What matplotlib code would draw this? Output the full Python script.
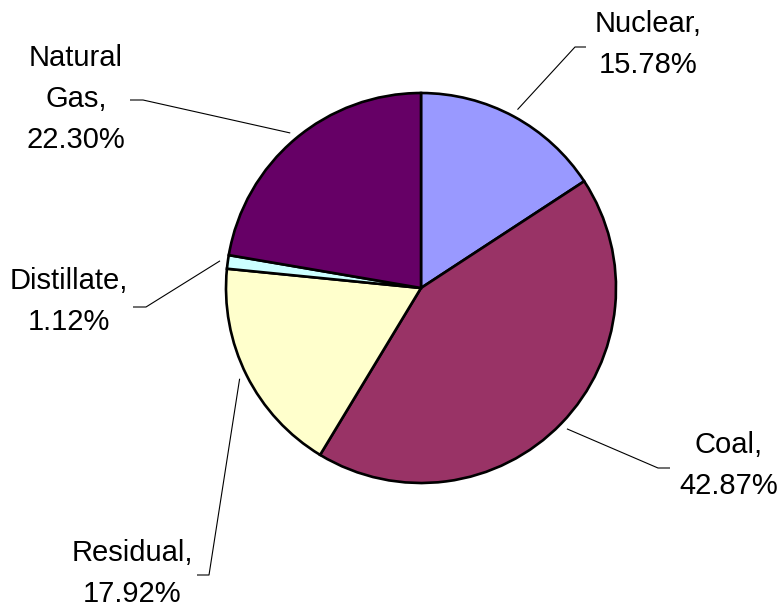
import numpy as np
import matplotlib
matplotlib.use('Agg')
import matplotlib.pyplot as plt

# fuel mix shares, clockwise from 12 o'clock
fuels = ['Nuclear', 'Coal', 'Residual', 'Distillate', 'Natural Gas']
shares = [15.78, 42.87, 17.92, 1.12, 22.30]
colors = ['#9999FF', '#993366', '#FFFFCC', '#CCFFFF', '#660066']

# label lines (text broken like the original)
label_lines = [
	['Nuclear,', '15.78%'],
	['Coal,', '42.87%'],
	['Residual,', '17.92%'],
	['Distillate,', '1.12%'],
	['Natural', 'Gas,', '22.30%'],
]

# layout in pixels (y grows downward)
W, H = 784, 608
center = (421, 288)
radius = 195
text_x = [648, 729, 132, 69, 76]
first_baseline = [32, 453, 561, 289, 66]
line_step = 41
elbows = [(575, 47), (658, 468), (209, 575), (146, 307), (143, 100)]
ends = [(586, 47), (670, 468), (197, 575), (133, 307), (130, 100)]


def main():
	plt.rcParams['font.family'] = ['Liberation Sans', 'DejaVu Sans']
	fig = plt.figure(figsize=(W / 100, H / 100), dpi=100)
	ax = fig.add_axes([0, 0, 1, 1])

	# y axis is flipped, so counterclockwise in data is clockwise on screen
	wedges, _ = ax.pie(shares, colors=colors, startangle=-90, counterclock=True,
		center=center, radius=radius, frame=True,
		wedgeprops=dict(edgecolor='black', linewidth=1.9))
	ax.set_xlim(0, W)
	ax.set_ylim(H, 0)
	ax.set_aspect('auto')
	ax.axis('off')

	for i, w in enumerate(wedges):
		mid = np.deg2rad((w.theta1 + w.theta2) / 2)
		sx = center[0] + radius * 1.04 * np.cos(mid)
		sy = center[1] + radius * 1.04 * np.sin(mid)
		ax.plot([sx, elbows[i][0], ends[i][0]], [sy, elbows[i][1], ends[i][1]],
			color='black', linewidth=0.8, solid_capstyle='butt')
		for k, line in enumerate(label_lines[i]):
			ax.text(text_x[i], first_baseline[i] + k * line_step, line,
				ha='center', va='baseline', fontsize=21, color='black')

	fig.savefig('out.png', dpi=100)


if __name__ == '__main__':
	main()
